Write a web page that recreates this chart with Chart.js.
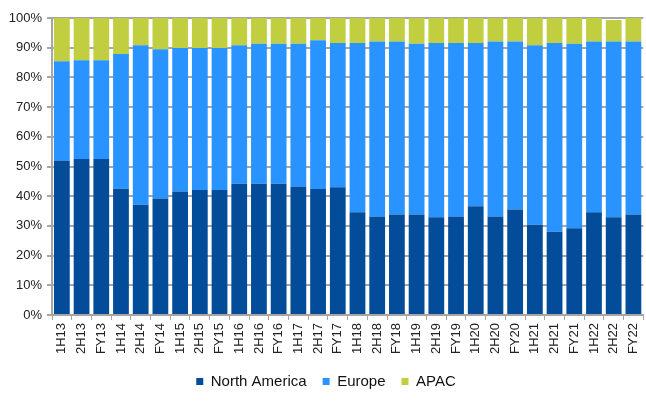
<!DOCTYPE html>
<html>
<head>
<meta charset="utf-8">
<script src="https://cdn.jsdelivr.net/npm/chart.js@4"></script>
<style>
  html, body { margin: 0; padding: 0; background: #fff; overflow: hidden; }
  #wrap { width: 652px; height: 403px; }
</style>
</head>
<body>
<div id="wrap"><canvas id="regionChart" width="652" height="403"></canvas></div>
<script>
const periods = ['1H13','2H13','FY13','1H14','2H14','FY14','1H15','2H15','FY15','1H16','2H16','FY16','1H17','2H17','FY17',
                 '1H18','2H18','FY18','1H19','2H19','FY19','1H20','2H20','FY20','1H21','2H21','FY21','1H22','2H22','FY22'];

const northAmerica = [52.0, 52.5, 52.5, 42.5, 37.1, 39.2, 41.6, 42.1, 42.1, 44.2, 44.2, 44.2, 43.3, 42.4, 43.0,
                      34.6, 33.2, 33.8, 33.8, 32.9, 33.2, 36.6, 33.2, 35.5, 30.4, 28.0, 29.2, 34.6, 32.9, 33.8];
const europe = [33.4, 33.3, 33.3, 45.4, 53.7, 50.3, 48.3, 47.8, 47.8, 46.6, 47.1, 47.1, 48.0, 50.1, 48.6,
                57.0, 58.9, 58.3, 57.5, 58.7, 58.4, 55.0, 58.9, 56.6, 60.4, 63.6, 62.1, 57.5, 59.2, 58.3];
const apac = [14.6, 14.2, 14.2, 12.1, 9.2, 10.5, 10.1, 10.1, 10.1, 9.2, 8.7, 8.7, 8.7, 7.5, 8.4,
              8.4, 7.9, 7.9, 8.7, 8.4, 8.4, 8.4, 7.9, 7.9, 9.2, 8.4, 8.7, 7.9, 7.2, 7.9];
const yTicks = [0, 10, 20, 30, 40, 50, 60, 70, 80, 90, 100];

const FONT = 'Liberation Sans, Arial, sans-serif';
const GRID = '#a6a6a6';

new Chart(document.getElementById('regionChart').getContext('2d'), {
    type: 'bar',
    data: {
        labels: periods,
        datasets: [
            { label: 'North America', data: northAmerica, backgroundColor: '#024c99' },
            { label: 'Europe', data: europe, backgroundColor: '#2994ff' },
            { label: 'APAC', data: apac, backgroundColor: '#c0ce3f' }
        ]
    },
    options: {
        responsive: false,
        animation: false,
        devicePixelRatio: 1,
        categoryPercentage: 0.8,
        barPercentage: 1.0,
        layout: { padding: { top: 18, right: 0, left: 0, bottom: 4 } },
        plugins: {
            tooltip: { enabled: false },
            legend: {
                position: 'bottom',
                labels: {
                    boxWidth: 7, boxHeight: 7, padding: 16,
                    color: '#111', font: { family: FONT, size: 15 }
                }
            }
        },
        scales: {
            x: {
                stacked: true,
                offset: true,
                grid: { display: true, drawOnChartArea: false, offset: true, tickLength: 5, color: GRID, lineWidth: 1 },
                border: { color: GRID, width: 2 },
                ticks: { minRotation: 90, maxRotation: 90, autoSkip: false, padding: 3, color: '#222', font: { family: FONT, size: 13 } },
                afterFit: s => { s.height = 43; }
            },
            y: {
                stacked: true,
                min: 0, max: 100,
                afterBuildTicks: s => { s.ticks = yTicks.map(v => ({ value: v })); },
                grid: { color: GRID, lineWidth: 2, tickLength: 5 },
                border: { color: GRID, width: 2 },
                ticks: { callback: v => v + '%', padding: 5, color: '#222', font: { family: FONT, size: 13 } },
                afterFit: s => { s.width = 52; }
            }
        }
    }
});
</script>
</body>
</html>
